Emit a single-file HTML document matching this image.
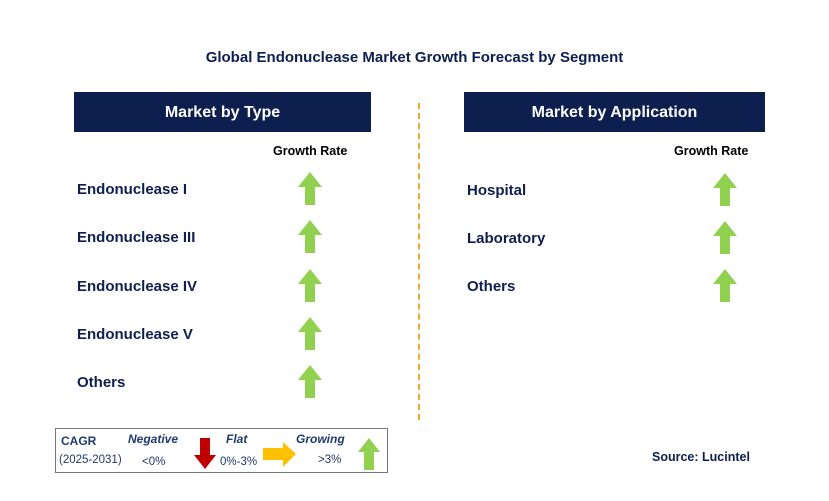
<!DOCTYPE html>
<html><head><meta charset="utf-8"><style>
body{margin:0;width:829px;height:501px;background:#fff;position:relative;overflow:hidden;font-family:"Liberation Sans",sans-serif}
.a{position:absolute}
.t{color:#0d1f4f;font-weight:bold;font-size:15px}
.hdr{background:#0d1f4f;color:#fff;font-size:16px;font-weight:bold;text-align:center;line-height:42px;height:40px}
.gr{font-size:12.5px;font-weight:bold;color:#000}
</style></head><body>
<div class="a t" style="left:0;width:829px;top:49px;text-align:center;font-size:15px">Global Endonuclease Market Growth Forecast by Segment</div>
<div class="a hdr" style="left:74px;top:92px;width:297px">Market by Type</div>
<div class="a hdr" style="left:464px;top:92px;width:301px">Market by Application</div>
<div class="a" style="left:418px;top:103px;height:317px;border-left:2px dashed #f0a830"></div>
<div class="a gr" style="left:273px;top:144px">Growth Rate</div>
<div class="a gr" style="left:674px;top:144px">Growth Rate</div>
<div id="rows"></div>
<div class="a" style="left:55px;top:428px;width:333px;height:45px;border:1.5px solid #777;box-sizing:border-box"></div>
<div class="a" style="left:61px;top:434px;color:#1f3a6e;font-weight:bold;font-size:12px">CAGR</div>
<div class="a" style="left:59px;top:454px;color:#1f3a6e;font-size:11.5px">(2025-2031)</div>
<div class="a" style="left:128px;top:432px;color:#1f3a6e;font-weight:bold;font-style:italic;font-size:12px">Negative</div>
<div class="a" style="left:142px;top:456px;color:#1f3a6e;font-size:11.5px">&lt;0%</div>
<svg class="a" style="left:193px;top:438px" width="24" height="32"><polygon points="7,0 17,0 17,17 23,17 12,31 1,17 7,17" fill="#c00000"/></svg>
<div class="a" style="left:226px;top:432px;color:#1f3a6e;font-weight:bold;font-style:italic;font-size:12px">Flat</div>
<div class="a" style="left:220px;top:456px;color:#1f3a6e;font-size:11.5px">0%-3%</div>
<svg class="a" style="left:263px;top:442px" width="34" height="26"><polygon points="0,6 20,6 20,0 33,12 20,25 20,18 0,18" fill="#ffc000"/></svg>
<div class="a" style="left:296px;top:432px;color:#1f3a6e;font-weight:bold;font-style:italic;font-size:12px">Growing</div>
<div class="a" style="left:318px;top:454px;color:#1f3a6e;font-size:11.5px">&gt;3%</div>
<svg class="a" style="left:357px;top:438px" width="24" height="33"><polygon points="12,0 23,14 17,14 17,32 7,32 7,14 1,14" fill="#92d050"/></svg>
<div class="a" style="left:652px;top:450px;color:#0d1f4f;font-weight:bold;font-size:12.5px">Source: Lucintel</div>
<script>
const typeSegments=["Endonuclease I","Endonuclease III","Endonuclease IV","Endonuclease V","Others"];
const appSegments=["Hospital","Laboratory","Others"];
const root=document.getElementById('rows');
function row(label,y,lx,ax,name){
 const d=document.createElement('div');
 d.className='a t';d.style.left=lx+'px';d.style.top=(y-8)+'px';d.textContent=label;
 
 
 root.appendChild(d);
 const s=document.createElementNS('http://www.w3.org/2000/svg','svg');
 s.setAttribute('class','a');s.setAttribute('width','26');s.setAttribute('height','34');
 s.style.left=(ax-13)+'px';s.style.top=(y-17)+'px';
 s.innerHTML='<polygon points="13,0 25,15 18,15 18,33 8,33 8,15 1,15" fill="#92d050"/>';
 
 
 root.appendChild(s);
}
typeSegments.forEach((l,i)=>row(l,189+i*48.3,77,310,'type-'+i));
appSegments.forEach((l,i)=>row(l,190+i*48,467,725,'app-'+i));
</script>
</body></html>
